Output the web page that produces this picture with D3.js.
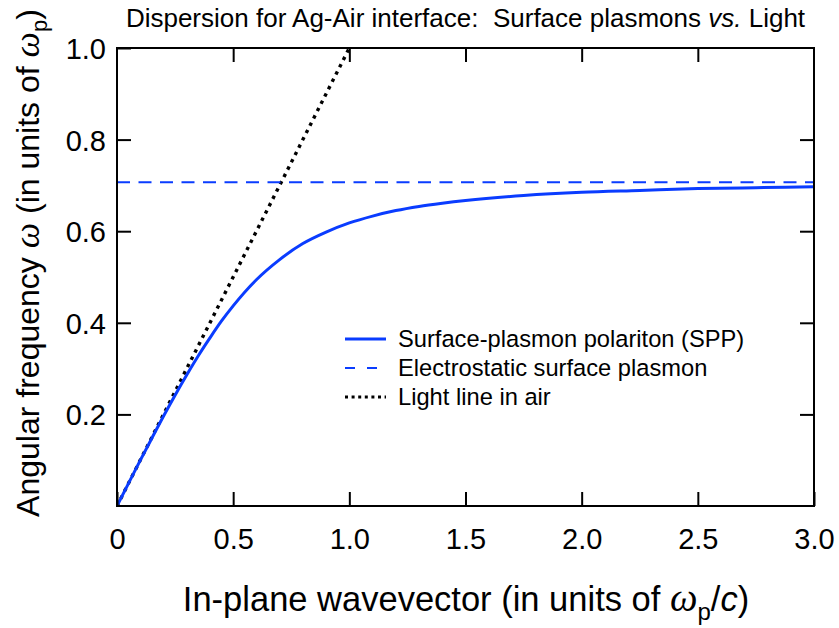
<!DOCTYPE html>
<html><head><meta charset="utf-8">
<script src="https://cdn.jsdelivr.net/npm/d3@7"></script>
<style>body{margin:0;background:#fff}</style>
</head><body><svg id="c" width="839" height="628"></svg>
<script>
// ---- data ----
const sppK =     [0, 0.05, 0.1, 0.15, 0.2, 0.25, 0.3, 0.35, 0.4, 0.45, 0.5, 0.6, 0.7, 0.8, 0.9, 1.0, 1.1, 1.2, 1.3, 1.4, 1.5, 1.75, 2.0, 2.25, 2.5, 2.75, 3.0];
const sppOmega = [0, 0.050, 0.0995, 0.148, 0.196, 0.242, 0.286, 0.328, 0.367, 0.404, 0.437, 0.494, 0.538, 0.573, 0.598, 0.618, 0.633, 0.645, 0.654, 0.661, 0.667, 0.678, 0.685, 0.689, 0.693, 0.695, 0.697];
const espK = [0, 3.0];
const espOmega = [0.707, 0.707];
const lightK = [0, 1.0];
const lightOmega = [0, 1.0];
const xTicks = [0, 0.5, 1.0, 1.5, 2.0, 2.5, 3.0];
const yTicks = [0.2, 0.4, 0.6, 0.8, 1.0];
const legendLabels = ["Surface-plasmon polariton (SPP)", "Electrostatic surface plasmon", "Light line in air"];

const blue = "#0a3cff";
const font = "'Liberation Sans', Arial, Helvetica, sans-serif";
const serif = "'Liberation Serif', 'Times New Roman', serif";

const svg = d3.select("#c");
const m = {l:117, r:814, t:48, b:506};
const x = d3.scaleLinear().domain([0,3]).range([m.l, m.r]);
const y = d3.scaleLinear().domain([0,1]).range([m.b, m.t]);

svg.append("defs").append("clipPath").attr("id","clip")
  .append("rect").attr("x",m.l).attr("y",m.t).attr("width",m.r-m.l).attr("height",m.b-m.t);

const plot = svg.append("g").attr("clip-path","url(#clip)");
const line = d3.line().x(d=>x(d[0])).y(d=>y(d[1]));

plot.append("path").attr("d", line(lightK.map((k,i)=>[k, lightOmega[i]])))
  .attr("fill","none").attr("stroke","#000").attr("stroke-width",3.4).attr("stroke-dasharray","3.4,4.8");
plot.append("path").attr("d", line(espK.map((k,i)=>[k, espOmega[i]])))
  .attr("fill","none").attr("stroke",blue).attr("stroke-width",2).attr("stroke-dasharray","13,8.5");
plot.append("path").attr("d", line.curve(d3.curveMonotoneX)(sppK.map((k,i)=>[k, sppOmega[i]])))
  .attr("fill","none").attr("stroke",blue).attr("stroke-width",3);

// axes (ticks inward on all four sides)
const fmtX = d => d === 0 ? "0" : d3.format(".1f")(d);
const gx = svg.append("g").attr("transform",`translate(0,${m.b})`)
  .call(d3.axisBottom(x).tickValues(xTicks).tickFormat(fmtX).tickSizeInner(-14).tickSizeOuter(0).tickPadding(22));
const gxt = svg.append("g").attr("transform",`translate(0,${m.t})`)
  .call(d3.axisTop(x).tickValues(xTicks.slice(1,-1)).tickFormat("").tickSizeInner(-14).tickSizeOuter(0));
const gy = svg.append("g").attr("transform",`translate(${m.l},0)`)
  .call(d3.axisLeft(y).tickValues(yTicks).tickFormat(d3.format(".1f")).tickSizeInner(-14).tickSizeOuter(0).tickPadding(11));
const gyr = svg.append("g").attr("transform",`translate(${m.r},0)`)
  .call(d3.axisRight(y).tickValues(yTicks.slice(0,-1)).tickFormat("").tickSizeInner(-14).tickSizeOuter(0));
[gx,gxt,gy,gyr].forEach(g=>{
  g.select(".domain").remove();
  g.selectAll(".tick line").attr("stroke","#000").attr("stroke-width",2);
  g.selectAll(".tick text").attr("fill","#000").style("font-family",font).style("font-size","29px");
});
gx.selectAll(".tick text").attr("dy","0.71em");
gy.selectAll(".tick text").attr("dy","0.36em");

svg.append("rect").attr("x",m.l).attr("y",m.t).attr("width",m.r-m.l).attr("height",m.b-m.t)
  .attr("fill","none").attr("stroke","#000").attr("stroke-width",2);

// title
const title = svg.append("text").attr("x",(m.l+m.r)/2).attr("y",27).attr("text-anchor","middle")
  .style("font-family",font).style("font-size","26px").attr("fill","#000").style("white-space","pre");
title.append("tspan").text("Dispersion for Ag-Air interface:  Surface plasmons ");
title.append("tspan").style("font-style","italic").text("vs.");
title.append("tspan").text(" Light");

// x label
const xl = svg.append("text").attr("x",466).attr("y",611).attr("text-anchor","middle")
  .style("font-family",font).style("font-size","34.5px").attr("fill","#000");
xl.append("tspan").text("In-plane wavevector (in units of ");
xl.append("tspan").style("font-family",serif).style("font-style","italic").style("font-size","39px").text("ω");
xl.append("tspan").attr("dy",9).style("font-size","24px").text("p");
xl.append("tspan").attr("dy",-9).text("/");
xl.append("tspan").style("font-style","italic").text("c");
xl.append("tspan").text(")");

// y label
const yl = svg.append("text").attr("transform","translate(39,263) rotate(-90)").attr("text-anchor","middle")
  .style("font-family",font).style("font-size","32px").attr("fill","#000");
yl.append("tspan").text("Angular frequency ");
yl.append("tspan").style("font-family",serif).style("font-style","italic").style("font-size","36px").text("ω");
yl.append("tspan").text(" (in units of ");
yl.append("tspan").style("font-family",serif).style("font-style","italic").style("font-size","36px").text("ω");
yl.append("tspan").attr("dy",8).style("font-size","22px").text("p");
yl.append("tspan").attr("dy",-8).text(")");

// legend
const lg = svg.append("g");
const rows = [
  {dash:null, color:blue, w:3},
  {dash:"10,12", color:blue, w:2},
  {dash:"3,3.6", color:"#000", w:3.2}
];
legendLabels.forEach((lab,i)=>{
  const cy = 339 + i*29;
  lg.append("line").attr("x1",345).attr("x2",386).attr("y1",cy).attr("y2",cy)
    .attr("stroke",rows[i].color).attr("stroke-width",rows[i].w)
    .attr("stroke-dasharray",rows[i].dash);
  lg.append("text").attr("x",398).attr("y",cy+8).text(lab)
    .style("font-family",font).style("font-size","23.7px").attr("fill","#000");
});
</script></body></html>
